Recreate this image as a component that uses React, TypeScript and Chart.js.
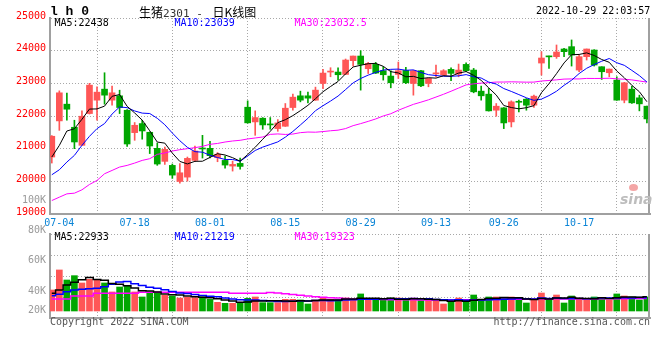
import React, { useEffect, useRef } from 'react';
import { Chart, registerables } from 'chart.js';

Chart.register(...registerables);

// ---------- data ----------
const dates = [
  '07-01', '07-04', '07-05', '07-06', '07-07', '07-08', '07-11', '07-12', '07-13', '07-14',
  '07-15', '07-18', '07-19', '07-20', '07-21', '07-22', '07-25', '07-26', '07-27', '07-28',
  '07-29', '08-01', '08-02', '08-03', '08-04', '08-05', '08-08', '08-09', '08-10', '08-11',
  '08-12', '08-15', '08-16', '08-17', '08-18', '08-19', '08-22', '08-23', '08-24', '08-25',
  '08-26', '08-29', '08-30', '08-31', '09-01', '09-02', '09-05', '09-06', '09-07', '09-08',
  '09-09', '09-13', '09-14', '09-15', '09-16', '09-19', '09-20', '09-21', '09-22', '09-23',
  '09-26', '09-27', '09-28', '09-29', '09-30', '10-10', '10-11', '10-12', '10-13', '10-14',
  '10-17', '10-18', '10-19', '10-20', '10-21', '10-24', '10-25', '10-26', '10-27', '10-28',
];

const opens = [
  20744, 21850, 22362, 21655, 21102, 22075, 22485, 22822, 22485, 22618,
  22177, 21491, 21768, 21502, 21010, 20611, 20488, 19996, 20129, 20641,
  21020, 21010, 20723, 20641, 20467, 20549, 22269, 21819, 21932, 21757,
  21614, 21686, 22259, 22618, 22618, 22485, 22996, 23345, 23345, 23273,
  23693, 23836, 23447, 23580, 23386, 23222, 23273, 23396, 22996, 23386,
  22996, 23290, 23252, 23427, 23283, 23580, 23406, 22761, 22669, 22177,
  22249, 21819, 22440, 22515, 22331, 23621, 23830, 23816, 24051, 24123,
  23406, 23816, 24020, 23508, 23324, 23099, 22485, 22822, 22556, 22300,
];

const highs = [
  21400, 22770, 22700, 21870, 22160, 23000, 22890, 23324, 22915, 22790,
  22200, 21800, 21870, 21510, 21174, 21050, 20530, 20540, 20744, 21082,
  21409, 21225, 20880, 20774, 20620, 20713, 22464, 22157, 21950, 21952,
  21890, 22382, 22669, 22761, 22730, 22884, 23427, 23478, 23478, 23744,
  23836, 24000, 23640, 23640, 23508, 23386, 23652, 23488, 23400, 23400,
  23160, 23560, 23420, 23478, 23590, 23631, 23457, 22915, 22843, 22382,
  22260, 22464, 22485, 22536, 22638, 23969, 23836, 24174, 24072, 24328,
  23867, 24051, 24030, 23508, 23437, 23201, 23030, 22915, 22638, 22300,
];

const lows = [
  20560, 21560, 21870, 21000, 21100, 22060, 21870, 22362, 22330, 22075,
  21070, 21256, 21290, 20850, 20490, 20518, 20090, 19945, 20006, 20600,
  20713, 20713, 20600, 20406, 20314, 20375, 21780, 21409, 21594, 21594,
  21532, 21680, 22177, 22433, 22403, 22480, 22833, 23201, 23099, 23265,
  23529, 22792, 23300, 23300, 23099, 22863, 23150, 22990, 22638, 22900,
  22894, 23200, 23230, 23078, 23201, 23355, 22710, 22485, 22150, 21993,
  21614, 21665, 22126, 22177, 22259, 23252, 23457, 23764, 23816, 23529,
  23355, 23713, 23529, 23119, 23201, 22480, 22403, 22382, 22157, 21788,
];

const closes = [
  21380, 22710, 22208, 21205, 21993, 22945, 22730, 22638, 22710, 22259,
  21143, 21716, 21542, 21082, 20530, 20979, 20191, 20262, 20703, 20928,
  20990, 20785, 20830, 20498, 20518, 20457, 21790, 21952, 21727, 21727,
  21788, 22239, 22577, 22485, 22546, 22792, 23314, 23375, 23263, 23713,
  23836, 23580, 23611, 23314, 23263, 23017, 23386, 23017, 23386, 22925,
  23150, 23320, 23386, 23304, 23406, 23386, 22740, 22618, 22157, 22300,
  21788, 22433, 22420, 22331, 22607, 23775, 23810, 23959, 23969, 23867,
  23816, 24051, 23560, 23355, 23437, 22485, 23017, 22403, 22372, 21911,
];

const volumes = [
  33900, 66200, 50000, 57000, 45200, 51100, 50000, 45200, 30700, 38700,
  39800, 30700, 22600, 30100, 29000, 25300, 24200, 20900, 22100, 21500,
  22600, 18800, 14000, 12400, 12400, 12400, 20400, 22600, 13400, 13400,
  13400, 18800, 18800, 17800, 11300, 17800, 22100, 18800, 17800, 20900,
  17800, 27500, 17800, 17800, 17800, 20900, 20900, 17800, 20900, 17800,
  17800, 17800, 11300, 14600, 20900, 14600, 25800, 17800, 22600, 22600,
  20900, 22600, 17800, 12900, 17800, 29000, 19400, 25800, 12900, 24200,
  20900, 17800, 22600, 20900, 17800, 27500, 24200, 22600, 17800, 22600,
];

// moving-average values before a full window exists (depend on June data)
const ma5Lead = [20744, 21100, 21540, 21610];
const ma10Lead = [20201, 20354, 20590, 20795, 21102, 21378, 21614, 21768, 22060];
const ma30Lead = [
  19412, 19515, 19617, 19638, 19740, 19904, 20027, 20232, 20334, 20437,
  20488, 20559, 20641, 20693, 20826, 20867, 20928, 20969, 21000, 21030,
  21071, 21133, 21160, 21204, 21235, 21256, 21297, 21327, 21358,
];
const vma5Lead = [28500, 33900, 41900, 46200];
const vma10Lead = [24700, 26900, 31200, 33900, 35000, 36000, 36600, 39200, 43000];
const vma30Lead = [
  19400, 19400, 19400, 24200, 24200, 24200, 28500, 28500, 28500, 28500,
  28500, 28500, 30100, 30100, 30100, 30100, 30100, 30100, 30100, 30100,
  30100, 30100, 30100, 30100, 28500, 28500, 28500, 28500, 28500,
];

const priceTickValues = [19000, 20000, 21000, 22000, 23000, 24000, 25000];
const dateTickIndex = [1, 11, 21, 31, 41, 51, 60, 70];
const legendPrice = ['MA5:22438', 'MA10:23039', 'MA30:23032.5'];
const legendVolume = ['MA5:22933', 'MA10:21219', 'MA30:19323'];
const volumeAxisLabels = ['100K', '80K', '60K', '40K', '20K'];

// ---------- styles ----------
const RED = '#ff5656';
const GREEN = '#00a600';
const MONO = '"DejaVu Sans Mono", monospace';
const CJK = '"Noto Sans CJK SC", sans-serif';
const GRID = '#a8a8a8';
const AXIS = '#a0a0a0';
const X_MIN = -0.24;
const X_MAX = 79.41;
const V_MIN = -11300;
const V_MAX = 124200;

function movingAverage(values: number[], n: number, lead: number[]): number[] {
  return values.map((_, i) => {
    if (i < n - 1) return lead[i];
    let s = 0;
    for (let j = i - n + 1; j <= i; j++) s += values[j];
    return s / n;
  });
}

const frame = {
  id: 'frame',
  afterDraw(chart: any) {
    const { ctx, chartArea } = chart;
    ctx.save();
    ctx.strokeStyle = AXIS;
    ctx.lineWidth = 2;
    ctx.beginPath();
    ctx.moveTo(chartArea.right - 1, chartArea.top);
    ctx.lineTo(chartArea.right - 1, chartArea.bottom);
    ctx.stroke();
    ctx.restore();
  },
};

function Label(props: { x: number; y: number; text: string; color: string; font?: string; align?: 'left' | 'right' }) {
  const { x, y, text, color, font, align } = props;
  const style: any = {
    position: 'absolute',
    top: y - 7,
    height: 14,
    lineHeight: '14px',
    whiteSpace: 'pre',
    color,
    font: font || `10px ${MONO}`,
  };
  if (align === 'right') style.right = 660 - x;
  else style.left = x;
  return <div style={style}>{text}</div>;
}

export default function App() {
  const priceRef = useRef<HTMLCanvasElement>(null);
  const volRef = useRef<HTMLCanvasElement>(null);

  useEffect(() => {
    const colors = closes.map((c, i) => (c >= opens[i] ? RED : GREEN));
    const ma5 = movingAverage(closes, 5, ma5Lead);
    const ma10 = movingAverage(closes, 10, ma10Lead);
    const ma30 = movingAverage(closes, 30, ma30Lead);
    const vma5 = movingAverage(volumes, 5, vma5Lead);
    const vma10 = movingAverage(volumes, 10, vma10Lead);
    const vma30 = movingAverage(volumes, 30, vma30Lead);
    const pts = (arr: number[]) => arr.map((y, i) => ({ x: i, y }));

    const xScale = (showLabels: boolean, h: number) => ({
      type: 'linear',
      min: X_MIN,
      max: X_MAX,
      offset: false,
      afterBuildTicks: (axis: any) => {
        axis.ticks = dateTickIndex.map((v) => ({ value: v }));
      },
      afterFit: (axis: any) => {
        axis.height = h;
      },
      ticks: {
        display: showLabels,
        autoSkip: false,
        maxRotation: 0,
        padding: 3,
        color: '#0a84d6',
        font: { family: MONO, size: 10 },
        callback: (v: any) => dates[v] ?? '',
      },
      grid: { color: GRID, lineWidth: 1, drawTicks: false },
      border: { display: true, color: AXIS, width: 2, dash: [1, 2] },
    });

    const lineDs = (data: number[], color: string, width: number, stepped: any) => ({
      type: 'line',
      data: pts(data),
      borderColor: color,
      borderWidth: width,
      pointRadius: 0,
      tension: 0,
      stepped,
      order: 0,
    });

    const price = new Chart(priceRef.current as HTMLCanvasElement, {
      type: 'bar',
      data: {
        datasets: [
          lineDs(ma5, '#000000', 1, false),
          lineDs(ma10, '#0000ff', 1, false),
          lineDs(ma30, '#ff00ff', 1, false),
          {
            type: 'bar',
            data: closes.map((c, i) => ({ x: i, y: [opens[i], c] })),
            backgroundColor: colors,
            barThickness: 6,
            minBarLength: 1,
            grouped: false,
            borderWidth: 0,
            order: 1,
          },
          {
            type: 'bar',
            data: closes.map((_, i) => ({ x: i, y: [lows[i], highs[i]] })),
            backgroundColor: colors,
            barThickness: 1,
            grouped: false,
            borderWidth: 0,
            order: 2,
          },
        ] as any,
      },
      options: {
        animation: false,
        responsive: false,
        maintainAspectRatio: false,
        layout: { padding: { top: 18, right: 10, left: 0, bottom: 0 } },
        plugins: { legend: { display: false }, tooltip: { enabled: false } },
        scales: {
          x: xScale(true, 16) as any,
          y: {
            min: 19000,
            max: 25000,
            afterBuildTicks: (axis: any) => {
              axis.ticks = priceTickValues.map((v) => ({ value: v }));
            },
            afterFit: (axis: any) => {
              axis.width = 50;
            },
            ticks: {
              padding: 4,
              labelOffset: -2,
              color: '#ff0000',
              font: { family: MONO, size: 10 },
              callback: (v: any) => String(v),
            },
            grid: { color: GRID, lineWidth: 1, drawTicks: false },
            border: { display: true, color: AXIS, width: 2, dash: [1, 2] },
          },
        },
      },
      plugins: [frame],
    });

    const vol = new Chart(volRef.current as HTMLCanvasElement, {
      type: 'bar',
      data: {
        datasets: [
          lineDs(vma5, '#000000', 1.5, 'middle'),
          lineDs(vma10, '#0000ff', 1.5, 'middle'),
          lineDs(vma30, '#ff00ff', 1.5, 'middle'),
          {
            type: 'bar',
            data: volumes.map((v, i) => ({ x: i, y: v })),
            backgroundColor: colors,
            barThickness: 6,
            grouped: false,
            borderWidth: 0,
            order: 1,
          },
        ] as any,
      },
      options: {
        animation: false,
        responsive: false,
        maintainAspectRatio: false,
        layout: { padding: { top: 4, right: 10, left: 0, bottom: 0 } },
        plugins: { legend: { display: false }, tooltip: { enabled: false } },
        scales: {
          x: xScale(false, 12) as any,
          y: {
            min: V_MIN,
            max: V_MAX,
            afterBuildTicks: (axis: any) => {
              axis.ticks = [0, 1, 2, 3, 4].map((i) => ({ value: V_MIN + (i * (V_MAX - V_MIN)) / 4 }));
            },
            afterFit: (axis: any) => {
              axis.width = 50;
            },
            ticks: { display: false },
            grid: { color: GRID, lineWidth: 1, drawTicks: false },
            border: { display: true, color: AXIS, width: 2, dash: [1, 2] },
          },
        },
      },
      plugins: [frame],
    });

    return () => {
      price.destroy();
      vol.destroy();
    };
  }, []);

  const legendColors = ['#000000', '#0000ff', '#ff00ff'];
  const legendX = [54.5, 174.5, 294.5];
  const volLabelY = [200.7, 230.7, 261, 291.7, 311];

  return (
    <div
      style={{
        position: 'fixed',
        left: 0,
        top: 0,
        width: 660,
        height: 360,
        background: '#ffffff',
        overflow: 'hidden',
      }}
    >
      <canvas ref={priceRef} width={660} height={230} style={{ position: 'absolute', left: 0, top: 0 }} />
      <canvas ref={volRef} width={660} height={100} style={{ position: 'absolute', left: 0, top: 230 }} />

      <Label x={50} y={11} text="l h 0" color="#000" font={`bold 13px "Liberation Mono", monospace`} />
      <div
        style={{
          position: 'absolute',
          left: 139,
          top: 3,
          height: 16,
          lineHeight: '16px',
          whiteSpace: 'pre',
          color: '#000',
          font: `12px ${CJK}`,
        }}
      >
        <span>生猪</span>
        <span style={{ font: `11px ${MONO}`, color: '#333' }}>2301 - </span>
        <span style={{ marginLeft: 3 }}>日K线图</span>
      </div>
      <Label x={536} y={11.7} text="2022-10-29 22:03:57" color="#000" />

      {legendPrice.map((t, i) => (
        <Label key={'p' + i} x={legendX[i]} y={24} text={t} color={legendColors[i]} />
      ))}
      {legendVolume.map((t, i) => (
        <Label key={'v' + i} x={legendX[i]} y={237.5} text={t} color={legendColors[i]} />
      ))}
      {volumeAxisLabels.map((t, i) => (
        <Label key={'a' + i} x={46} y={volLabelY[i]} text={t} color="#9a9a9a" align="right" />
      ))}

      <Label x={50} y={323} text="Copyright 2022 SINA.COM" color="#555" />
      <Label x={650} y={323} text="http://finance.sina.com.cn" color="#555" align="right" />

      <div
        style={{
          position: 'absolute',
          left: 629,
          top: 184,
          width: 9,
          height: 7,
          borderRadius: '50%',
          background: '#f4a6a6',
        }}
      />
      <Label x={620} y={198} text="sina" color="#bdbdbd" font={`italic bold 14px "DejaVu Sans", sans-serif`} />
    </div>
  );
}
